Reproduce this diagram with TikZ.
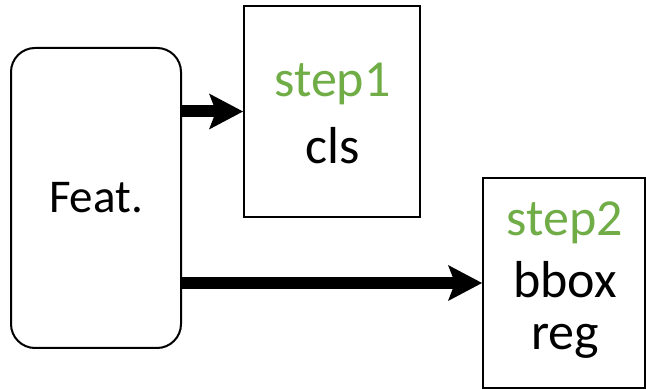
\documentclass[tikz,border=0pt]{standalone}
\usepackage{fontspec}
\setmainfont{Carlito}
\usetikzlibrary{arrows.meta}
\definecolor{stepgreen}{HTML}{70AD47}
\tikzset{
  box/.style={draw=black, line width=2pt, fill=white, inner sep=0pt},
  headtext/.style={anchor=base, inner sep=0pt, font=\fontsize{52}{60}\selectfont},
  steptext/.style={headtext, text=stepgreen},
  flow/.style={line width=12pt,
    -{Stealth[length=34pt, width=36pt, inset=7pt, line width=0pt 0 0]}},
}
\begin{document}
\begin{tikzpicture}[x=1pt, y=-1pt]
  \useasboundingbox (0,0) rectangle (646,390);
  % feature block
  \node[box, rounded corners=24pt, minimum width=170pt, minimum height=300pt,
        font=\fontsize{47}{56}\selectfont]
    (feat) at (96,198) {Feat.};
  % step 1 head: classification
  \node[box, minimum width=176pt, minimum height=211pt] (cls) at (332,111.5) {};
  \node[steptext] (s1) at (332.5,97) {step1};
  \node[headtext] (c1) at (332.5,164) {cls};
  % step 2 head: box regression
  \node[box, minimum width=162pt, minimum height=210pt] (reg) at (564,283) {};
  \node[steptext] (s2) at (565,236) {step2};
  \node[headtext] (b2) at (565,298) {bbox};
  \node[headtext] (r2) at (565,350) {reg};
  % connections
  \draw[flow] (feat.east |- cls.west) -- (cls.west);
  \draw[flow] (feat.east |- reg.west) -- (reg.west);
\end{tikzpicture}
\end{document}
